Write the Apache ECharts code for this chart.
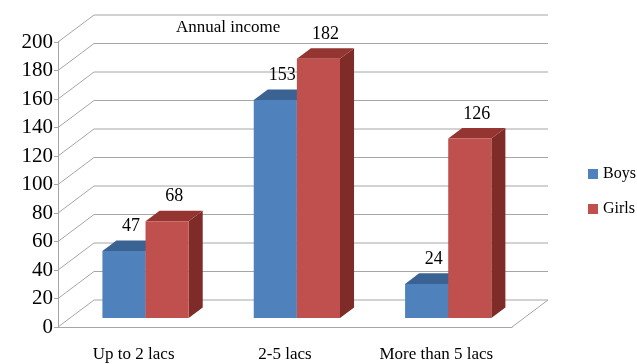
<!DOCTYPE html>
<html>
<head>
<meta charset="utf-8">
<script src="https://cdn.jsdelivr.net/npm/echarts@6/dist/echarts.min.js"></script>
<style>
  html, body { margin: 0; padding: 0; background: #fff; }
  #main { width: 637px; height: 364px; }
</style>
</head>
<body>
<div id="main"></div>
<script>
var categories = ['Up to 2 lacs', '2-5 lacs', 'More than 5 lacs'];
var boys = [47, 153, 24];
var girls = [68, 182, 126];
var gridValues = [0, 20, 40, 60, 80, 100, 120, 140, 160, 180, 200];

// depth of the fake 3d box (pixels) and where the bars sit in it
var DX = 36, DY = -27;
var FRONT = 0.33, BACK = 0.72;
var FONT = '"Liberation Serif", "Times New Roman", serif';

var chart = echarts.init(document.getElementById('main'));

// walls: left side lines, back wall lines, floor right edge
function wallItem(params, api) {
    var v = api.value(1);
    var catW = api.size([1, 0])[0];
    var left = api.coord([0, v])[0] - catW / 2;
    var right = api.coord([categories.length - 1, v])[0] + catW / 2;
    var y = api.coord([0, v])[1];
    var st = { stroke: '#a6a6a6', lineWidth: 1 };
    var kids = [
        { type: 'line', shape: { x1: left, y1: y, x2: left + DX, y2: y + DY }, style: st },
        { type: 'line', shape: { x1: left + DX, y1: y + DY, x2: right + DX, y2: y + DY }, style: st }
    ];
    if (v === 0) {
        kids.push({ type: 'line', shape: { x1: right, y1: y, x2: right + DX, y2: y + DY }, style: st });
    }
    return { type: 'group', children: kids };
}

function barRender(side, colors) {
    return function (params, api) {
        var idx = api.value(0);
        var val = api.value(1);
        var catW = api.size([1, 0])[0];
        var barW = catW * 0.285;
        var base = api.coord([idx, 0]);
        var top = api.coord([idx, val]);
        var x0 = base[0] + (side === 0 ? -barW : 0);
        var x1 = x0 + barW;
        var fx = DX * FRONT, fy = DY * FRONT;
        var bx = DX * BACK, by = DY * BACK;
        var ty = top[1], by0 = base[1];
        return {
            type: 'group',
            children: [
                { type: 'polygon', shape: { points: [[x1 + fx, ty + fy], [x1 + bx, ty + by], [x1 + bx, by0 + by], [x1 + fx, by0 + fy]] }, style: { fill: colors[2] } },
                { type: 'polygon', shape: { points: [[x0 + fx, ty + fy], [x1 + fx, ty + fy], [x1 + bx, ty + by], [x0 + bx, ty + by]] }, style: { fill: colors[1] } },
                { type: 'rect', shape: { x: x0 + fx, y: ty + fy, width: barW, height: by0 - ty }, style: { fill: colors[0] } },
                { type: 'text', style: { text: String(val), x: (x0 + x1) / 2 + (fx + bx) / 2, y: ty + by - 14, align: 'center', verticalAlign: 'middle', fontSize: 18, fontFamily: FONT, fill: '#000' } }
            ]
        };
    };
}

var option = {
    backgroundColor: '#fff',
    animation: false,
    title: {
        text: 'Annual income',
        left: 176,
        top: 19,
        padding: 0,
        textStyle: { fontSize: 17, fontWeight: 'normal', fontFamily: FONT, color: '#000' }
    },
    legend: {
        data: ['Boys', 'Girls'],
        orient: 'vertical',
        left: 588,
        top: 166,
        padding: 0,
        icon: 'rect',
        itemWidth: 10,
        itemHeight: 10,
        itemGap: 19,
        textStyle: { fontSize: 16, fontFamily: FONT, color: '#000', lineHeight: 15 }
    },
    grid: { left: 58, right: 125, top: 42, bottom: 37 },
    xAxis: {
        type: 'category',
        data: categories,
        axisLine: { lineStyle: { color: '#a6a6a6' } },
        axisTick: { length: 5, lineStyle: { color: '#a6a6a6' } },
        axisLabel: { margin: 19, fontSize: 17, fontFamily: FONT, color: '#000' }
    },
    yAxis: {
        type: 'value',
        min: 0,
        max: 200,
        interval: 20,
        axisLine: { show: true, lineStyle: { color: '#a6a6a6' } },
        axisTick: { show: true, length: 4, lineStyle: { color: '#a6a6a6' } },
        splitLine: { show: false },
        axisLabel: { margin: 5, fontSize: 21, fontFamily: FONT, color: '#000' }
    },
    series: [
        {
            name: 'walls',
            type: 'custom',
            renderItem: wallItem,
            data: gridValues.map(function (v) { return [0, v]; }),
            silent: true
        },
        {
            name: 'Boys',
            type: 'custom',
            itemStyle: { color: '#4F81BD' },
            renderItem: barRender(0, ['#4F81BD', '#3A6394', '#34578a']),
            data: boys.map(function (v, i) { return [i, v]; })
        },
        {
            name: 'Girls',
            type: 'custom',
            itemStyle: { color: '#C0504D' },
            renderItem: barRender(1, ['#C0504D', '#943532', '#7f2b28']),
            data: girls.map(function (v, i) { return [i, v]; })
        }
    ]
};

chart.setOption(option);
</script>
</body>
</html>
